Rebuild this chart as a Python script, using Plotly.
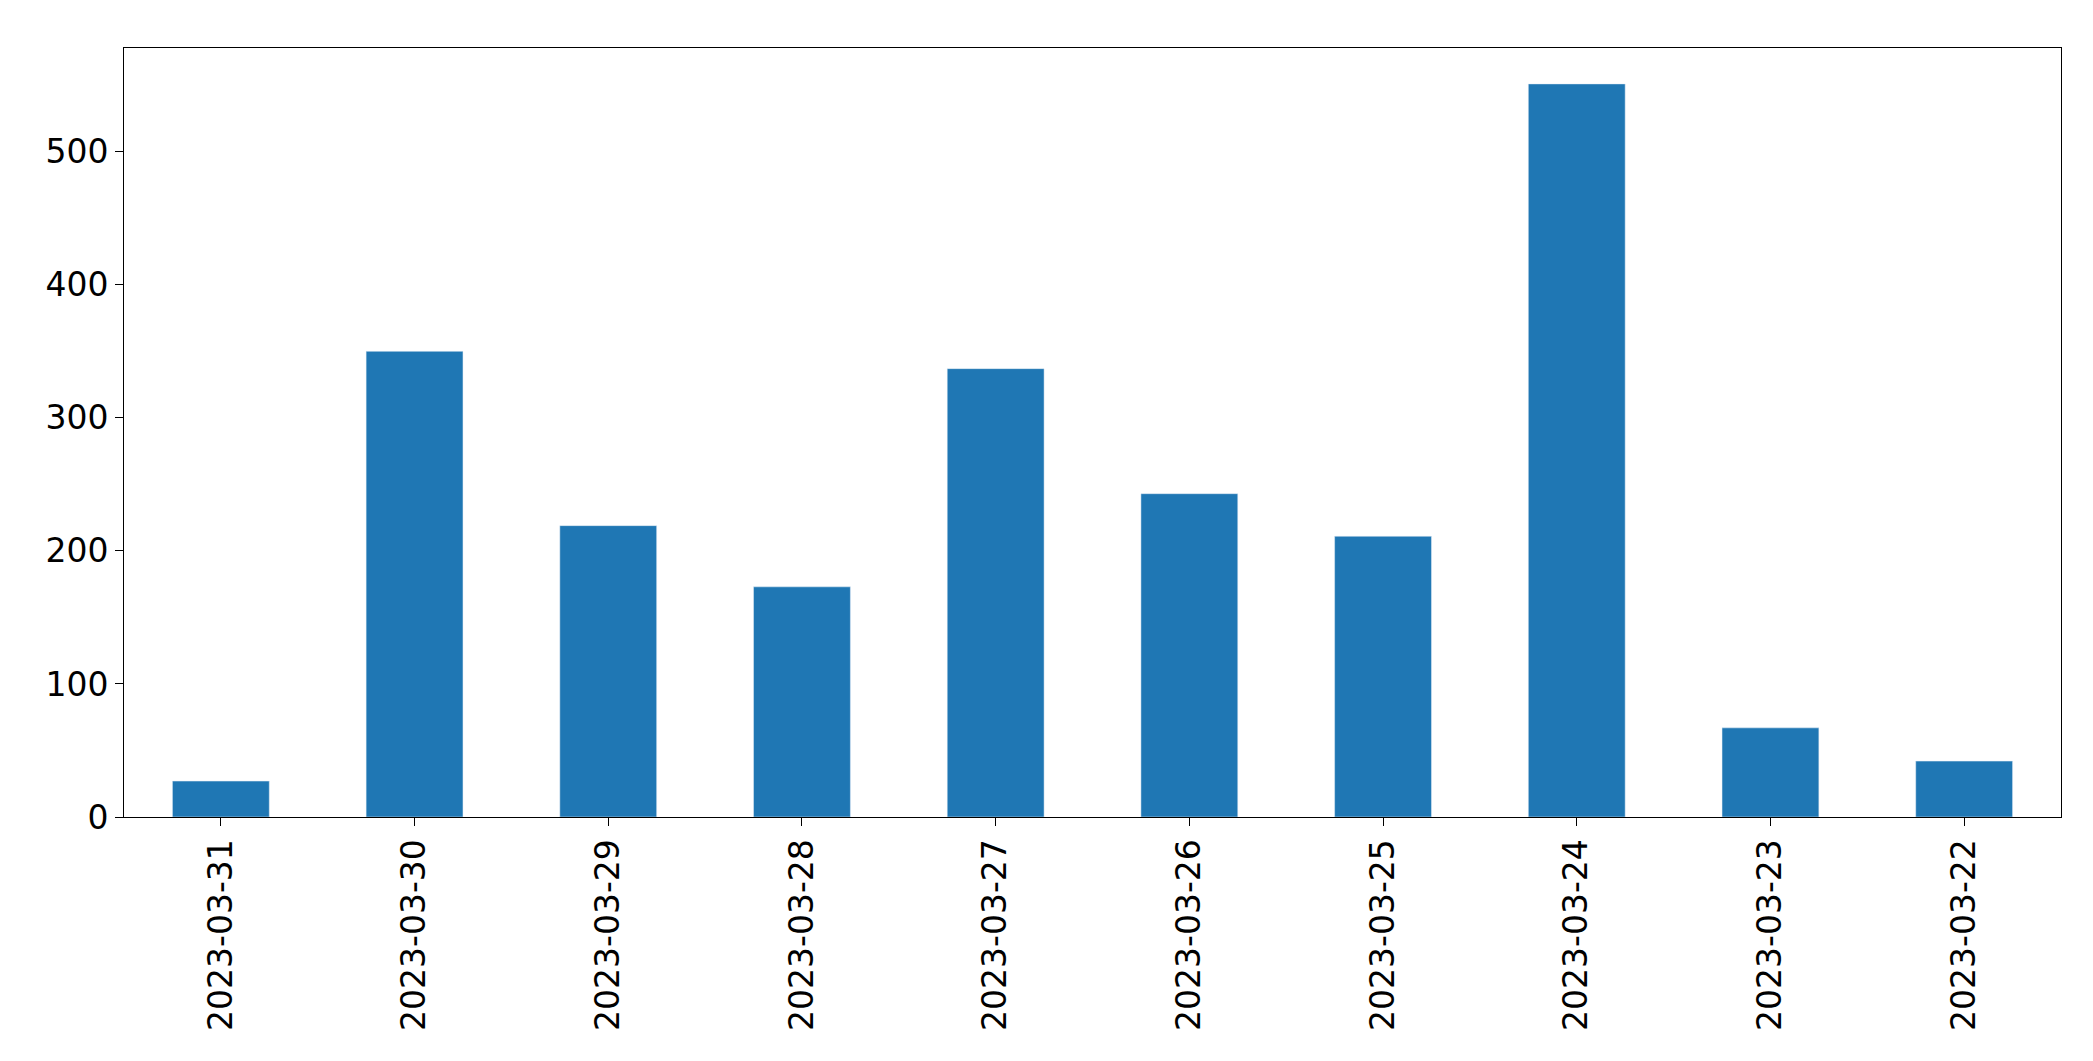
import plotly.graph_objects as go

dates = ["2023-03-31","2023-03-30","2023-03-29","2023-03-28","2023-03-27",
         "2023-03-26","2023-03-25","2023-03-24","2023-03-23","2023-03-22"]
counts = [27, 350, 219, 173, 337, 243, 211, 551, 67, 42]

fig = go.Figure(go.Bar(x=dates, y=counts, marker_color="#1f77b4", width=0.5))
fig.update_layout(
    width=2093, height=1061, plot_bgcolor="white", paper_bgcolor="white",
    margin=dict(l=116, r=40, t=40, b=252), showlegend=False,
    font=dict(family="DejaVu Sans", size=33, color="black"),
)
fig.update_xaxes(type="category", tickangle=-90, showline=True, linecolor="black",
                 linewidth=1, mirror=True, ticks="outside", ticklen=8, tickcolor="black")
fig.update_yaxes(range=[0, 578], tickvals=[0,100,200,300,400,500], showgrid=False,
                 zeroline=False, showline=True, linecolor="black", linewidth=1,
                 mirror=True, ticks="outside", ticklen=8, tickcolor="black")
fig.write_html("out.html")
